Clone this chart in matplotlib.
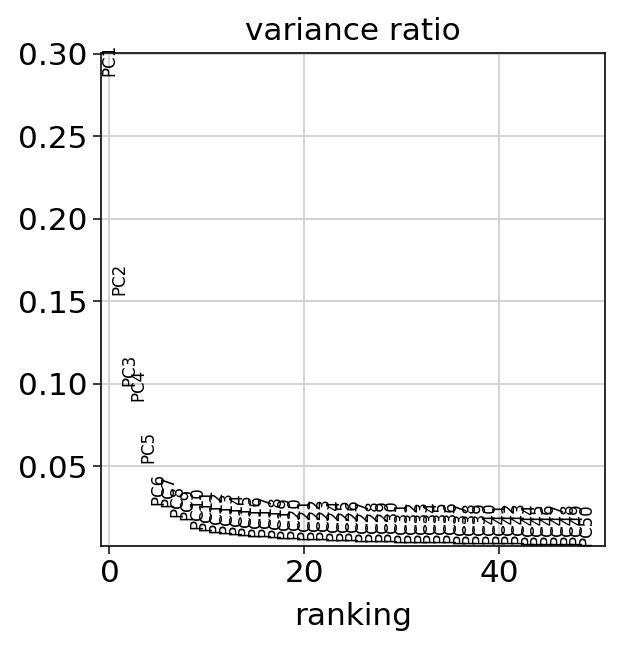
import matplotlib
matplotlib.use("Agg")
import matplotlib.pyplot as plt

labels = [f"PC{i}" for i in range(1, 51)]
variance_ratio = [
    0.2863, 0.1540, 0.0986, 0.0896, 0.0520, 0.0262, 0.0250, 0.0190, 0.0175, 0.0122,
    0.0105, 0.0095, 0.0088, 0.0082, 0.0077, 0.0072, 0.0068, 0.0064, 0.0060, 0.0056,
    0.0054, 0.0052, 0.0050, 0.0048, 0.0046, 0.0044, 0.0043, 0.0041, 0.0040, 0.0039,
    0.0037, 0.0036, 0.0035, 0.0034, 0.0033, 0.0032, 0.0031, 0.0030, 0.0029, 0.0028,
    0.0027, 0.0026, 0.0026, 0.0025, 0.0024, 0.0023, 0.0022, 0.0021, 0.0020, 0.0019,
]
title = "variance ratio"
xlabel = "ranking"
xticks = [0, 20, 40]
yticks = [0.05, 0.10, 0.15, 0.20, 0.25, 0.30]

W, H = 622, 648
fig = plt.figure(figsize=(W / 100, H / 100), dpi=100)
left, right, top, bottom = 100.7, 605, 52.7, 545.7
ax = fig.add_axes([left / W, 1 - bottom / H, (right - left) / W, (bottom - top) / H])

for i, (lab, v) in enumerate(zip(labels, variance_ratio)):
    ax.text(i, v, lab, rotation="vertical", va="bottom", ha="center", fontsize=12, color="black")

vmin, vmax = min(variance_ratio), max(variance_ratio)
ax.set_ylim(0.95 * vmin, 1.05 * vmax)
ax.set_xlim(-0.9, len(labels) + 0.9)
ax.set_xticks(xticks)
ax.set_yticks(yticks)
ax.set_yticklabels([f"{t:.2f}" for t in yticks])

ax.grid(True, color="#cccccc", linewidth=1.2)
ax.set_axisbelow(True)
for s in ax.spines.values():
    s.set_linewidth(1.3)
    s.set_color("#1a1a1a")
ax.tick_params(axis="both", labelsize=22.4, length=5.5, width=1.2, pad=3.9, color="#1a1a1a")

ax.set_title(title, fontsize=22.4, pad=9)
ax.set_xlabel(xlabel, fontsize=22.4, labelpad=10)

fig.savefig("out.png", dpi=100)
